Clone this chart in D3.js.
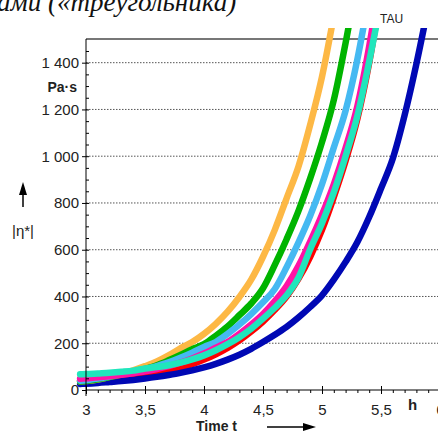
<!DOCTYPE html>
<meta charset="utf-8">
<style>
 body { margin: 0; background: #fff; }
 svg { display: block; font-family: "Liberation Sans", Arial, sans-serif; }
 .grid { stroke: #555; stroke-width: 1; stroke-dasharray: 1.5,1.5; }
 .curve { fill: none; stroke-width: 6.5; stroke-linecap: round; stroke-linejoin: round; }
 .axis text { font-size: 15px; fill: #222; }
 .axis line, .axis path { stroke: #000; }
</style>

<svg class="chart"></svg>

<script src="https://cdn.jsdelivr.net/npm/d3@7"></script>
<script>

 // time in hours (first point just before 3 h)
 var times = [2.95, 3.0, 3.1, 3.2, 3.3, 3.4, 3.5, 3.6, 3.7, 3.8, 3.9,
              4.0, 4.1, 4.2, 4.3, 4.4, 4.5, 4.6, 4.7, 4.8, 4.9,
              5.0, 5.1, 5.2, 5.3, 5.4, 5.5, 5.6, 5.7, 5.8, 5.9];

 // |eta*| in Pa·s, one array per sample
 var orange    = [36, 38, 45, 56, 68, 84, 102, 122, 148, 178, 205, 240, 283, 335, 398, 472, 570, 685, 820, 955, 1135, 1340, 1600];
 var green     = [36, 38, 46, 55, 66, 76, 90, 106, 127, 150, 175, 196, 232, 272, 320, 370, 435, 535, 645, 765, 905, 1060, 1240, 1485, 1760];
 var lightBlue = [40, 42, 49, 58, 68, 77, 88, 102, 118, 138, 160, 184, 205, 240, 280, 325, 375, 432, 525, 630, 745, 880, 1037, 1195, 1415, 1690];
 var magenta   = [48, 50, 54, 59, 65, 72, 80, 90, 102, 117, 135, 156, 181, 205, 240, 280, 325, 380, 445, 530, 635, 750, 880, 1035, 1215, 1470, 1780];
 var turquoise = [67, 68, 71, 74, 78, 83, 92, 98, 106, 117, 131, 148, 170, 196, 226, 262, 305, 352, 405, 480, 602, 713, 845, 1000, 1173, 1405, 1660];
 var red       = [40, 42, 45, 48, 52, 57, 63, 71, 81, 94, 110, 130, 153, 180, 212, 250, 293, 343, 400, 475, 570, 685, 825, 980, 1160, 1400, 1700];
 var darkBlue  = [26, 27, 30, 34, 38, 43, 49, 56, 64, 73, 84, 97, 112, 130, 151, 176, 205, 236, 270, 310, 355, 405, 472, 548, 633, 740, 862, 990, 1175, 1395, 1640];

 var yTicks = [0, 200, 400, 600, 800, 1000, 1200, 1400];
 var xTicks = [3, 3.5, 4, 4.5, 5, 5.5, 6];

 var series = [
     {name: "red",       values: red,       color: "#ff0000"},
     {name: "darkBlue",  values: darkBlue,  color: "#0008b4"},
     {name: "orange",    values: orange,    color: "#fdb845"},
     {name: "green",     values: green,     color: "#00b400"},
     {name: "lightBlue", values: lightBlue, color: "#45b9f2"},
     {name: "magenta",   values: magenta,   color: "#ff12a6"},
     {name: "turquoise", values: turquoise, color: "#20e6bc"}
 ];

 var W = 438, H = 433;
 var svg = d3.select(".chart").attr("width", W).attr("height", H);

 var x = d3.scaleLinear().domain([3, 6]).range([86, 440]);
 var y = d3.scaleLinear().domain([0, 1500]).range([390, 39.3]);

 var loc = d3.formatLocale({decimal: ",", thousands: " ", grouping: [3], currency: ["", ""]});
 var fx = loc.format(",.1~f"), fy = loc.format(",d");

 // title fragment cut at the top
 svg.append("text").attr("x", -3).attr("y", 11)
    .style("font-family", "'Liberation Serif', 'DejaVu Serif', serif")
    .style("font-style", "italic").style("font-size", "27px").attr("fill", "#111")
    .text("ами («треугольника)");

 svg.append("text").attr("x", 380).attr("y", 23).style("font-size", "12px").attr("fill", "#222").text("TAU");

 // dotted grid
 svg.append("g").selectAll("line").data(yTicks.slice(1)).enter().append("line")
    .attr("class", "grid").attr("x1", 86).attr("x2", 438)
    .attr("y1", function(d) { return y(d); }).attr("y2", function(d) { return y(d); });

 // top frame line
 svg.append("line").attr("x1", 86).attr("x2", 438).attr("y1", 39).attr("y2", 39)
    .attr("stroke", "#777").attr("stroke-width", 2);

 // curves
 svg.append("clipPath").attr("id", "clip").append("rect")
    .attr("x", 70).attr("y", 28).attr("width", 370).attr("height", 370);

 var line = d3.line()
     .x(function(d) { return x(d.t); })
     .y(function(d) { return y(d.v); })
     .curve(d3.curveMonotoneX);

 svg.append("g").attr("clip-path", "url(#clip)").selectAll("path").data(series).enter().append("path")
    .attr("class", "curve")
    .attr("stroke", function(s) { return s.color; })
    .attr("d", function(s) {
        return line(s.values.map(function(v, i) { return {t: times[i], v: v}; }));
    });

 // y axis
 var yAxis = svg.append("g").attr("class", "axis").attr("transform", "translate(86,0)")
    .call(d3.axisLeft(y).tickValues(yTicks).tickFormat(fy).tickSize(4).tickPadding(3).tickSizeOuter(0));
 yAxis.select(".domain").remove();
 svg.append("g").attr("transform", "translate(86,0)")
    .call(d3.axisRight(y).tickValues(d3.range(50, 1500, 50)).tickFormat("").tickSize(3).tickSizeOuter(0))
    .call(function(g) { g.select(".domain").remove(); });
 svg.append("line").attr("x1", 86).attr("x2", 86).attr("y1", 39).attr("y2", 396).attr("stroke", "#000");

 // x axis
 var xAxis = svg.append("g").attr("class", "axis").attr("transform", "translate(0,390)")
    .call(d3.axisBottom(x).tickValues(xTicks).tickFormat(fx).tickSize(4).tickPadding(10).tickSizeOuter(0));
 xAxis.selectAll(".tick line").attr("y1", -4).attr("y2", 4);
 xAxis.select(".domain").attr("d", "M86,0H438");
 svg.append("g").attr("transform", "translate(0,390)")
    .call(d3.axisBottom(x).tickValues(d3.range(3.1, 5.95, 0.1)).tickFormat("").tickSize(3).tickSizeOuter(0))
    .call(function(g) { g.select(".domain").remove(); });

 // axis titles
 svg.append("text").attr("x", 408).attr("y", 410).style("font-size", "15px").style("font-weight", "bold")
    .attr("fill", "#222").text("h");
 svg.append("text").attr("x", 77).attr("y", 92).attr("text-anchor", "end")
    .style("font-size", "14px").style("font-weight", "bold").attr("fill", "#222").text("Pa·s");
 svg.append("text").attr("x", 12).attr("y", 236).style("font-size", "15px").attr("fill", "#222").text("|η*|");
 svg.append("text").attr("x", 196).attr("y", 431).style("font-size", "14px").style("font-weight", "bold")
    .attr("fill", "#222").text("Time t");

 // arrows
 svg.append("line").attr("x1", 23).attr("x2", 23).attr("y1", 207).attr("y2", 192).attr("stroke", "#000").attr("stroke-width", 1.5);
 svg.append("path").attr("d", "M23,182L19,195L27,195Z").attr("fill", "#000");
 svg.append("line").attr("x1", 267).attr("x2", 304).attr("y1", 427).attr("y2", 427).attr("stroke", "#000").attr("stroke-width", 1.5);
 svg.append("path").attr("d", "M316,427L303,423L303,431Z").attr("fill", "#000");

</script>
